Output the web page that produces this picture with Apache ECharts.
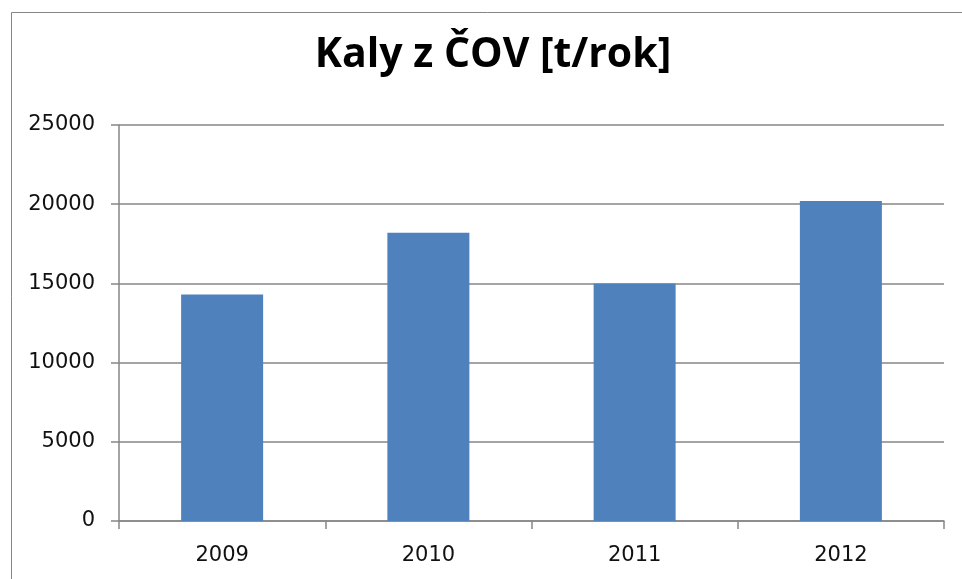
<!DOCTYPE html>
<html>
<head>
    <meta charset="UTF-8">
    <title>Kaly z ČOV</title>
    <script src="https://cdn.jsdelivr.net/npm/echarts@6/dist/echarts.min.js"></script>
    <style>
        html, body { margin: 0; padding: 0; background: #fff; }
        #chart { width: 962px; height: 579px; }
    </style>
</head>
<body>
    <div id="chart"></div>
<script type="text/javascript">
// data
var years = ['2009', '2010', '2011', '2012'];
var kaly = [14300, 18200, 15000, 20200];
var yTicks = [0, 5000, 10000, 15000, 20000, 25000];

var myChart = echarts.init(document.getElementById('chart'));

var option = {
    backgroundColor: '#fff',
    animation: false,
    // outer frame (only top and left edge are visible in the picture)
    graphic: [{
        type: 'rect',
        shape: { x: 11.5, y: 12.5, width: 1200, height: 1200 },
        style: { fill: 'none', stroke: '#868686', lineWidth: 1 }
    }],
    title: {
        text: 'Kaly z ČOV [t/rok]',
        left: 488,
        textAlign: 'center',
        top: 30,
        textStyle: {
            fontFamily: 'Open Sans',
            fontWeight: 'bold',
            fontSize: 41,
            color: '#000'
        }
    },
    grid: { left: 119, right: 18, top: 125, bottom: 58 },
    xAxis: {
        type: 'category',
        data: years,
        axisLine: { lineStyle: { color: '#868686', width: 1.5 } },
        axisTick: { show: true, length: 8, lineStyle: { color: '#868686', width: 1.5 } },
        axisLabel: {
            margin: 24,
            fontFamily: 'DejaVu Sans',
            fontSize: 21,
            color: '#111'
        }
    },
    yAxis: {
        type: 'value',
        min: yTicks[0],
        max: yTicks[yTicks.length - 1],
        interval: yTicks[1] - yTicks[0],
        axisLine: { show: true, lineStyle: { color: '#868686', width: 1.5 } },
        axisTick: { show: true, length: 8, lineStyle: { color: '#868686', width: 1.5 } },
        splitLine: { lineStyle: { color: '#868686', width: 1.5 } },
        axisLabel: {
            margin: 24,
            fontFamily: 'DejaVu Sans',
            fontSize: 21,
            color: '#111',
            formatter: function (v) { return String(v); }
        }
    },
    series: [{
        name: 'Kaly',
        type: 'bar',
        data: kaly,
        barWidth: 82,
        itemStyle: { color: '#4F81BD' }
    }]
};

myChart.setOption(option);
</script>
</body>
</html>
